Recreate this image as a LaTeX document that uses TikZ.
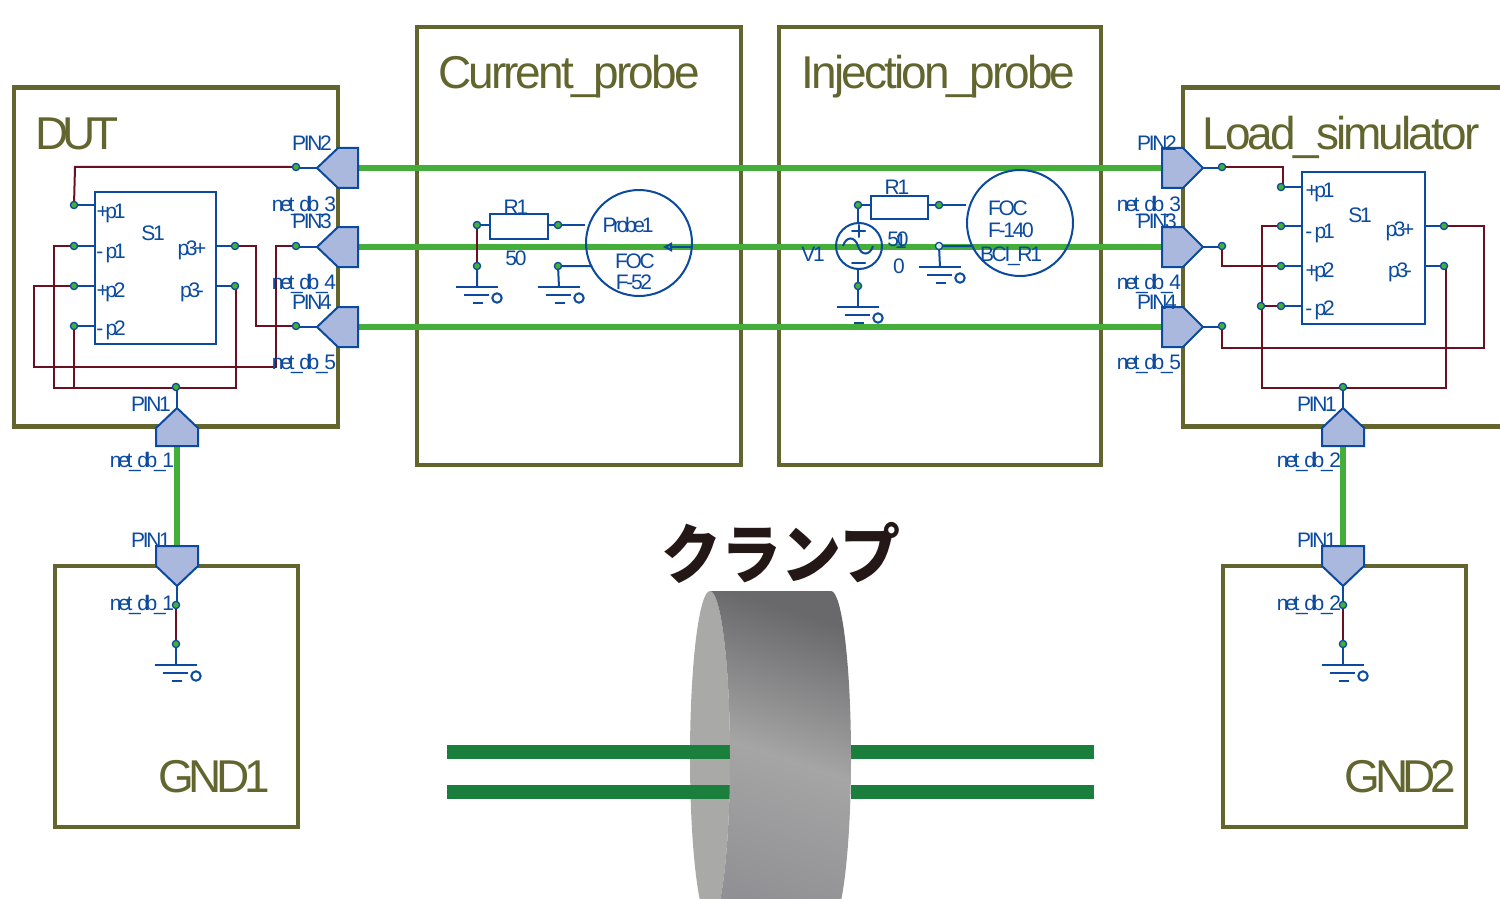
\documentclass[tikz,border=0pt]{standalone}
\usepackage{fontspec}
\usepackage{graphicx}
\usetikzlibrary{backgrounds,arrows.meta}
\setmainfont{Liberation Sans}
\newfontfamily\labfont[LetterSpace=-11]{Liberation Sans}
\newfontfamily\tightfont[LetterSpace=-16]{Liberation Sans}
\newfontfamily\titlefont[LetterSpace=-6.3]{Liberation Sans}
\newfontfamily\capsfont[LetterSpace=-12]{Liberation Sans}
\newfontfamily\cjkfont{Noto Sans CJK JP}
\definecolor{olv}{HTML}{62662E}
\definecolor{blu}{HTML}{0B4A9E}
\definecolor{grn}{HTML}{43AE38}
\definecolor{dgrn}{HTML}{1A7F3C}
\definecolor{drd}{HTML}{6A1020}
\definecolor{pinf}{HTML}{ABB8DD}
\definecolor{cfront}{HTML}{A9AAA8}
\definecolor{ctop}{HTML}{69686B}
\definecolor{cmid}{HTML}{A5A5A5}
\definecolor{cbot}{HTML}{919195}
\definecolor{ink}{HTML}{231815}
\tikzset{
  x=0.5pt,y=-0.5pt,
  olivebox/.style={draw=olv,line width=2.25pt,inner sep=0,fill=white},
  sbox/.style={draw=blu,line width=1pt,inner sep=0},
  pinshape/.style={draw=blu,fill=pinf,line width=1pt,line join=miter},
  dotn/.style={circle,draw=blu,fill=grn,line width=0.65pt,minimum size=3.6pt,inner sep=0},
  bw/.style={draw=blu,line width=1pt},
  rw/.style={draw=drd,line width=1pt,line join=miter},
  gw/.style={draw=grn,line width=3pt},
  bar/.style={draw=none,fill=dgrn},
  lab/.style={text=blu,font=\labfont\fontsize{10.5pt}{12pt}\selectfont,inner sep=0,anchor=base},
  ttl/.style={text=olv,font=\titlefont\fontsize{23pt}{26pt}\selectfont,inner sep=0,anchor=base},
  ttlcaps/.style={text=olv,font=\capsfont\fontsize{23pt}{26pt}\selectfont,inner sep=0,anchor=base},
}
\newcommand{\T}[1]{{\tightfont\fontsize{10.5pt}{12pt}\selectfont #1}}
\newcommand{\pinL}[3]{% points left, tip at x,y
  \draw[pinshape] (#2,#3) coordinate (#1) -- ++(21,-20) -- ++(20,0) -- ++(0,40) coordinate (#1t) -- ++(-20,0) -- cycle;}
\newcommand{\pinR}[3]{% points right, tip at x,y
  \draw[pinshape] (#2,#3) coordinate (#1) -- ++(-20,-20) -- ++(-21,0) -- ++(0,40) coordinate (#1t) -- ++(21,0) -- cycle;}
\newcommand{\pinU}[3]{% points up, tip at x,y
  \draw[pinshape] (#2,#3) coordinate (#1) -- ++(21,20) -- ++(0,18) -- ++(-21,0) coordinate (#1b) -- ++(-21,0) -- ++(0,-18) -- cycle;}
\newcommand{\pinD}[3]{% points down, tip at x,y
  \draw[pinshape] (#2,#3) coordinate (#1) -- ++(21,-20) -- ++(0,-20) -- ++(-21,0) coordinate (#1b) -- ++(-21,0) -- ++(0,20) -- cycle;}
\newcommand{\gnd}[3]{% ground symbol, top line centre at x,y
  \coordinate (#1) at (#2,#3);
  \draw[bw] (#1) ++(-21,0) -- ++(42,0);
  \draw[bw] (#1) ++(-13,8) -- ++(25,0);
  \draw[bw] (#1) ++(-4,16) -- ++(10,0);
  \draw[bw] (#1) ++(20,11) circle (4.7);}
\newcommand{\dotnode}[3]{\node[dotn] (#1) at (#2,#3) {};}
\begin{document}
\begin{tikzpicture}
\useasboundingbox (0,0) rectangle (1500,899);
\clip (0,0) rectangle (1500,899);

% clamp
\fill[cfront] (710,591) .. controls (721,591) and (730,665) .. (730,757)
  .. controls (730,849) and (721,923) .. (710,923)
  .. controls (699,923) and (690,849) .. (690,757)
  .. controls (690,665) and (699,591) .. (710,591) -- cycle;
\fill[bar] (447,745) rectangle (730,759);
\fill[bar] (447,785) rectangle (730,799);
\fill[bar] (851,745) rectangle (1094,759);
\fill[bar] (851,785) rectangle (1094,799);
\shade[top color=ctop,bottom color=cbot,middle color=cmid,shading angle=-18]
  (710,591) -- (831,591) .. controls (842,591) and (851,665) .. (851,757)
  .. controls (851,849) and (842,923) .. (831,923) -- (710,923)
  .. controls (721,923) and (730,849) .. (730,757)
  .. controls (730,665) and (721,591) .. (710,591) -- cycle;
\node[inner sep=0,anchor=base,text=ink,font=\cjkfont\bfseries\fontsize{30pt}{36pt}\selectfont] (kr) at (781,578) {\scalebox{1}[1.08]{クランプ}};

% pins
\pinL{dp2}{317}{168} \pinL{dp3}{317}{247} \pinL{dp4}{317}{327}
\pinU{dp1}{177}{408}
\pinD{gp1}{177}{586}
\pinR{lp2}{1203}{168} \pinR{lp3}{1203}{247} \pinR{lp4}{1203}{327}
\pinU{lp1}{1343}{408}
\pinD{hp1}{1343}{586}

% DUT internals
\node[sbox,minimum width=60.5pt,minimum height=76pt] (ds) at (155.5,268) {};
\dotnode{dd2}{296}{167}\dotnode{dd3}{296}{246}\dotnode{dd4}{296}{326}
\dotnode{da}{74}{205}\dotnode{db}{74}{246}\dotnode{dc}{74}{286}\dotnode{de}{74}{326}
\dotnode{df}{235}{246}\dotnode{dg}{235}{286}
\dotnode{dj}{176}{387}

% Load simulator internals
\node[sbox,minimum width=61.5pt,minimum height=76pt] (ls) at (1363.5,248) {};
\dotnode{ld2}{1222}{167}\dotnode{ld3}{1222}{246}\dotnode{ld4}{1222}{326}
\dotnode{la}{1281}{187}\dotnode{lb}{1281}{226}\dotnode{lc}{1281}{266}\dotnode{le}{1281}{306}
\dotnode{lf}{1444}{226}\dotnode{lg}{1444}{266}
\dotnode{lx}{1261}{306}
\dotnode{lj}{1343}{387}

% Ground blocks
\dotnode{g1a}{176}{605}\dotnode{g1b}{176}{644}\gnd{g1g}{176}{665}
\dotnode{g2a}{1343}{605}\dotnode{g2b}{1343}{644}\gnd{g2g}{1343}{665}

% Current probe
\node[sbox,minimum width=29pt,minimum height=12.5pt] (cr) at (519,226.5) {};
\node[circle,draw=blu,line width=1pt,minimum size=53pt,inner sep=0] (cc) at (639,243) {};
\dotnode{c1}{477}{225}\dotnode{c2}{558}{225}\dotnode{c3}{477}{266}\dotnode{c4}{558}{266}
\gnd{cg1}{477}{287}\gnd{cg2}{559}{287}

% Injection probe
\node[sbox,minimum width=28.5pt,minimum height=11.5pt] (ir) at (899.5,207.5) {};
\node[circle,draw=blu,line width=1pt,minimum size=53pt,inner sep=0] (ic) at (1020,223) {};
\node[circle,draw=blu,line width=1pt,minimum size=23pt,inner sep=0] (iv) at (859,246) {};
\dotnode{i1}{858}{205}\dotnode{i2}{939}{205}\dotnode{i3}{858}{286}
\node[circle,draw=blu,fill=grn!20!white,line width=0.65pt,minimum size=3.6pt,inner sep=0] (i4) at (939,246) {};
\gnd{ig1}{858}{307}\gnd{ig2}{940}{267}
\draw[bw,line cap=round] (852,231) -- (865,231) (858.5,225) -- (858.5,237) (852,263) -- (865,263);
\draw[bw] (843,246) .. controls (846,236) and (855,236) .. (858,246) .. controls (861,256) and (870,256) .. (873,246);

% texts
\node[ttlcaps] (t1) at (77,149) {DUT};
\node[ttl] (t2) at (569,89) {Current\_probe};
\node[ttl] (t3) at (938.5,89) {Injection\_probe};
\node[ttl] (t4) at (1341,149) {Load\_simulator};
\node[ttlcaps] (t5) at (214,792) {GND1};
\node[ttlcaps] (t6) at (1400.5,792) {GND2};

\foreach \n/\x/\y/\t in {a1/312/150/PIN2,a2/304/212/\T{net\_db\_3},a3/312/228/PIN3,a4/304/289/\T{net\_db\_4},a5/312/309/PIN4,a6/304/369/\T{net\_db\_5},
  a7/151/411/PIN1,a8/142/467/\T{net\_db\_1},a9/151/547/PIN1,a10/142/610/\T{net\_db\_1},
  b1/1157/150/PIN2,b2/1149/212/\T{net\_db\_3},b3/1157/228/PIN3,b4/1149/289/\T{net\_db\_4},b5/1157/309/PIN4,b6/1149/369/\T{net\_db\_5},
  b7/1317/411/PIN1,b8/1309/467/\T{net\_db\_2},b9/1317/547/PIN1,b10/1309/610/\T{net\_db\_2},
  s1/153/241/S1,s2/111/219/\T{+p1},s3/111/258/\T{- p1},s4/111/297/\T{+p2},s5/111/335/\T{- p2},s6/192/256/\T{p3+},s7/192/297/\T{p3-},
  u1/1360/222/S1,u2/1320/198/\T{+p1},u3/1320/238/\T{- p1},u4/1320/277/\T{+p2},u5/1320/315/\T{- p2},u6/1400/236/\T{p3+},u7/1400/277/\T{p3-},
  v1/516/214/R1,v2/516/265/50,v3/628/233/\T{Probe1},v4/635/268/FOC,v5/634/289/F-52,
  w1/897/194/R1,w2/813/261/V1,w3/898/246/50,w4/901/249/1,w5/899/273/0,w6/1008/215/FOC,w7/1011/237/F-140,w8/1011/261/BCI\_R1}
  {\node[lab] (\n) at (\x,\y) {\t};}

\begin{scope}[on background layer]
  % frames
  \node[olivebox,minimum width=162pt,minimum height=169.5pt] (dut) at (176,257) {};
  \node[olivebox,minimum width=162pt,minimum height=219pt] (cur) at (579,246) {};
  \node[olivebox,minimum width=161pt,minimum height=219pt] (inj) at (940,246) {};
  \node[olivebox,minimum width=199pt,minimum height=169.5pt] (load) at (1382,257) {};
  \node[olivebox,minimum width=121.5pt,minimum height=130.5pt] (gnda) at (176.5,696.5) {};
  \node[olivebox,minimum width=121.5pt,minimum height=130.5pt] (gndb) at (1344.5,696.5) {};
  % harness
  \draw[gw] (dp2t |- dp2) -- (lp2t |- lp2);
  \draw[gw] (dp3t |- dp3) -- (lp3t |- lp3);
  \draw[gw] (dp4t |- dp4) -- (lp4t |- lp4);
  \draw[gw] (dp1b) -- (gp1b);
  \draw[gw] (lp1b) -- (hp1b);
  % blue stubs
  \draw[bw] (dp2) -- (dp2 -| dd2) (dp3) -- (dp3 -| dd3) (dp4) -- (dp4 -| dd4) (dp1) -- (dp1 |- dj);
  \draw[bw] (lp2) -- (lp2 -| ld2) (lp3) -- (lp3 -| ld3) (lp4) -- (lp4 -| ld4) (lp1) -- (lj.center);
  \draw[bw] (da.center) -- (ds.west |- da) (db.center) -- (ds.west |- db) (dc.center) -- (ds.west |- dc) (de.center) -- (ds.west |- de)
            (df.center) -- (ds.east |- df) (dg.center) -- (ds.east |- dg);
  \draw[bw] (la.center) -- (ls.west |- la) (lb.center) -- (ls.west |- lb) (lc.center) -- (ls.west |- lc) (le.center) -- (ls.west |- le)
            (lf.center) -- (ls.east |- lf) (lg.center) -- (ls.east |- lg);
  \draw[bw] (gp1) -- (gp1 |- g1a) (g1b.center) -- (g1g);
  \draw[bw] (hp1) -- (g2a.center) (g2b.center) -- (g2g);
  \draw[bw] (c1.center) -- (cr.west |- c1) (cr.east |- c2) -- (c2.center) -- (c2 -| cc.west);
  \draw[bw] (c3.center) -- (cg1) (c4.center) -- (cg2) (c4.center) -- (592,266);
  \draw[bw,-{Triangle[open,length=4.5pt,width=4.5pt]}] (692,247) -- (663,247);
  \draw[bw] (i1.center) -- (ir.west |- i1) (ir.east |- i2) -- (i2.center) -- (i2 -| ic.west);
  \draw[bw] (i1.center) -- (iv.north -| i1) (iv.south -| i3) -- (i3.center) -- (ig1);
  \draw[bw] (i4.center) -- (ig2) (i4.center) -- (972,246);
  % dark red nets
  \draw[rw] (dd2.center) -- (75,167) -- (da.center);
  \draw[rw] (df.center) -- (256,246) -- (256,326) -- (dd4.center);
  \draw[rw] (dd3.center) -- (276,246) -- (276,367) -- (34,367) -- (34,286) -- (dc.center);
  \draw[rw] (db.center) -- (54,246) -- (54,388) -- (236,388) -- (236,286) -- (dg.center);
  \draw[rw] (de.center) -- (74,388);
  \draw[rw] (ld2.center) -- (1283,167) -- (1283,187) -- (la.center);
  \draw[rw] (ld3.center) -- (ld3 |- lc) -- (lc.center);
  \draw[rw] (ld4.center) -- (1222,348) -- (1484,348) -- (1484,226) -- (lf.center);
  \draw[rw] (lb.center) -- (1262,226) -- (1262,388) -- (1446,388) -- (1446,266) -- (lg.center);
  \draw[rw] (lx.center) -- (le.center);
  \draw[rw] (g1a.center) -- (g1b.center);
  \draw[rw] (g2a.center) -- (g2b.center);
  \draw[rw] (c1.center) -- (c3.center);
\end{scope}
\end{tikzpicture}
\end{document}
